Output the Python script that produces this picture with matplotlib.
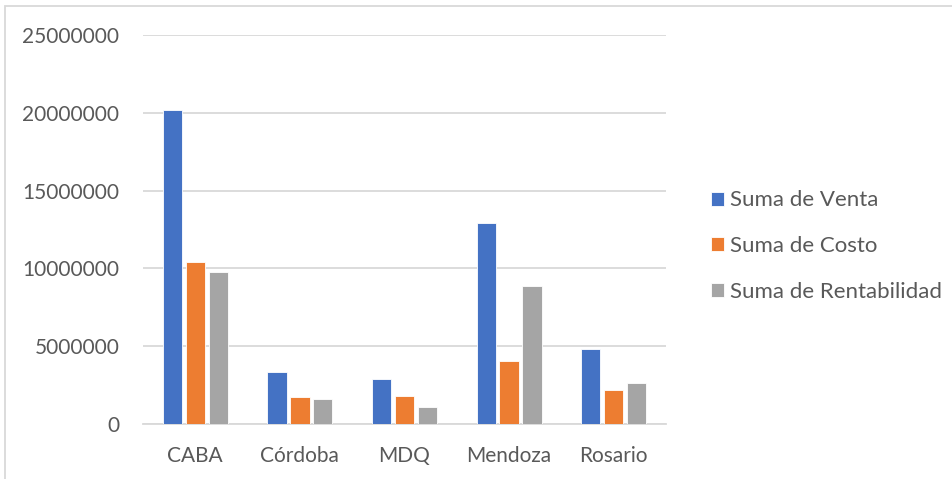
import numpy as np
import matplotlib
matplotlib.use("Agg")
import matplotlib.pyplot as plt
from matplotlib.patches import Rectangle

# data
ciudades = ["CABA", "Córdoba", "MDQ", "Mendoza", "Rosario"]
venta = [20200000, 3370000, 2920000, 12920000, 4830000]
costo = [10400000, 1740000, 1780000, 4060000, 2160000]
rentabilidad = [9760000, 1590000, 1120000, 8840000, 2610000]
series_names = ["Suma de Venta", "Suma de Costo", "Suma de Rentabilidad"]
y_ticks = [0, 5000000, 10000000, 15000000, 20000000, 25000000]

colors = ["#4472C4", "#ED7D31", "#A5A5A5"]
txt = "#595959"
grid = "#D9D9D9"

plt.rcParams["font.family"] = ["Lato", "DejaVu Sans"]

W, H = 953, 479
fig = plt.figure(figsize=(W / 100, H / 100), dpi=100)
fig.patch.set_facecolor("white")

# chart border (only left and top show in the crop)
fig.patches.append(Rectangle((5 / W, -0.1), 1.2, (H - 6) / H + 0.1,
                             transform=fig.transFigure, fill=False,
                             edgecolor=grid, linewidth=1.3))

ax = fig.add_axes([143 / W, 1 - 424 / H, (666 - 143) / W, (424 - 35) / H])

x = np.arange(len(ciudades))
slot = 0.219
bw = 0.185
for i, vals in enumerate([venta, costo, rentabilidad]):
    ax.bar(x + (i - 1) * slot, vals, width=bw, color=colors[i],
           edgecolor="white", linewidth=0.6, label=series_names[i], zorder=3)

ax.set_xlim(-0.5, len(ciudades) - 0.5)
ax.set_ylim(0, 25000000)
ax.set_yticks(y_ticks)
ax.set_yticklabels([str(v) for v in y_ticks])
ax.set_xticks(x)
ax.set_xticklabels(ciudades)
ax.yaxis.grid(True, color=grid, linewidth=1.3, zorder=0)
ax.set_axisbelow(True)
for s in ["top", "right", "left"]:
    ax.spines[s].set_visible(False)
ax.spines["bottom"].set_color(grid)
ax.spines["bottom"].set_linewidth(1.3)
ax.tick_params(axis="both", length=0, labelsize=15, labelcolor=txt)
ax.tick_params(axis="y", pad=17)
ax.tick_params(axis="x", pad=16)

leg = ax.legend(loc="center left", bbox_to_anchor=(702 / W, 1 - 246 / H),
                bbox_transform=fig.transFigure, frameon=False, fontsize=16,
                handlelength=0.6, handleheight=0.6, handletextpad=0.25,
                labelspacing=1.15, borderaxespad=0)
for t in leg.get_texts():
    t.set_color(txt)

fig.savefig("out.png", dpi=100, facecolor="white")
